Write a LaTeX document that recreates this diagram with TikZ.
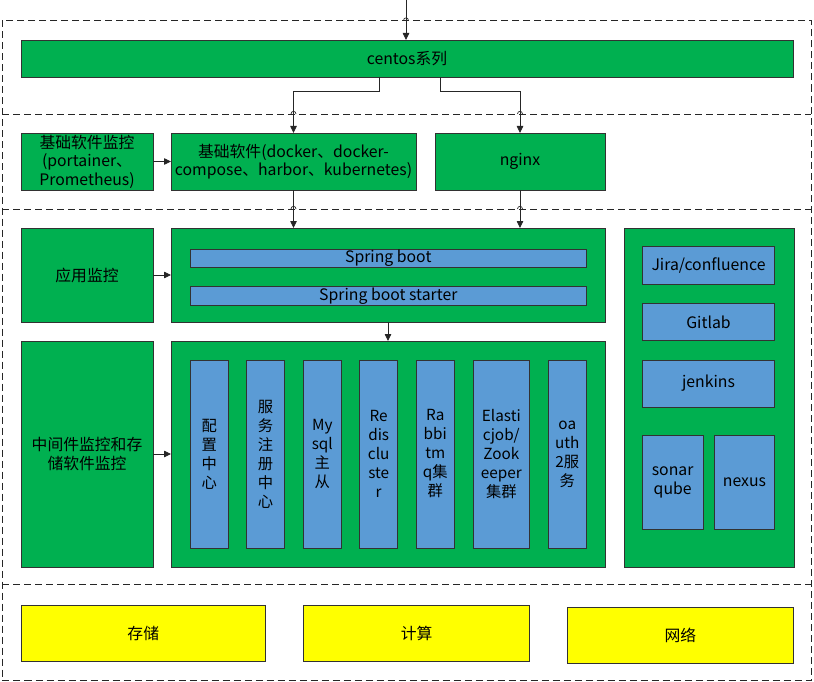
\documentclass[tikz,border=0pt]{standalone}
\usepackage{fontspec}
\setmainfont{Noto Sans CJK SC}
\usetikzlibrary{arrows.meta}
\definecolor{vgreen}{RGB}{0,176,80}
\definecolor{vblue}{RGB}{91,155,213}
\definecolor{vyellow}{RGB}{255,255,0}
\definecolor{edgec}{RGB}{50,50,50}
\begin{document}
\begin{tikzpicture}[x=1pt,y=-1pt,
  box/.style={draw=edgec,line width=0.8pt,inner sep=0pt,outer sep=0pt,anchor=north west,align=center,
    font=\fontsize{15.8}{18.5}\selectfont},
  gbox/.style={box,fill=vgreen},
  bbox/.style={box,fill=vblue},
  vbar/.style={bbox,font=\fontsize{15.3}{19}\selectfont},
  ybox/.style={box,fill=vyellow},
  zone/.style={draw=black!85,dash pattern=on 7pt off 4pt,line width=0.9pt},
  conn/.style={draw=black!85,line width=0.8pt,-{Triangle[length=7pt,width=6.5pt]}},
  hop/.style={draw=black!85,line width=0.7pt}
]
\useasboundingbox (0,0) rectangle (814,682);
% zones
\draw[zone] (2,20.5) rectangle (811,680);
\draw[zone] (2,114) -- (811,114);
\draw[zone] (2,209) -- (811,209);
\draw[zone] (2,584.5) -- (811,584.5);

% top layer
\node[gbox,minimum width=772pt,minimum height=37pt] (centos) at (21,40) {centos系列};

% second layer
\node[gbox,minimum width=132pt,minimum height=57pt] (mon1) at (21,133) {基础软件监控\\(portainer、\\Prometheus)};
\node[gbox,minimum width=245pt,minimum height=57pt] (base) at (171,133) {基础软件(docker、docker-\\compose、harbor、kubernetes)};
\node[gbox,minimum width=170pt,minimum height=57pt] (nginx) at (435,133) {nginx};

% third layer
\node[gbox,minimum width=132pt,minimum height=94pt] (appmon) at (21,228) {应用监控};
\node[gbox,minimum width=434pt,minimum height=94pt] (spring) at (171,228) {};
\node[bbox,minimum width=396pt,minimum height=18.5pt] (sb) at (190.3,249) {Spring boot};
\node[bbox,minimum width=396pt,minimum height=19pt] (sbs) at (190.3,286.5) {Spring boot starter};

\node[gbox,minimum width=132pt,minimum height=226pt] (midmon) at (21,341) {中间件监控和存\\储软件监控};
\node[gbox,minimum width=434pt,minimum height=226pt] (mid) at (171,341) {};
\node[vbar,minimum width=38pt,minimum height=188pt] (b1) at (190.3,360) {配\\置\\中\\心};
\node[vbar,minimum width=37.6pt,minimum height=188pt] (b2) at (246.7,360) {服\\务\\注\\册\\中\\心};
\node[vbar,minimum width=38pt,minimum height=188pt] (b3) at (303.3,360) {My\\sql\\主\\从};
\node[vbar,minimum width=38pt,minimum height=188pt] (b4) at (359.7,360) {Re\\dis\\clu\\ste\\r};
\node[vbar,minimum width=38pt,minimum height=188pt] (b5) at (416.3,360) {Ra\\bbi\\tm\\q集\\群};
\node[vbar,minimum width=56.7pt,minimum height=188pt] (b6) at (473,360) {Elasti\\cjob/\\Zook\\eeper\\集群};
\node[vbar,minimum width=38pt,minimum height=188pt] (b7) at (548.3,360) {oa\\uth\\2服\\务};

\node[gbox,minimum width=170pt,minimum height=339pt] (right) at (624,228) {};
\node[bbox,minimum width=132.4pt,minimum height=37.6pt] (jira) at (642.3,246.7) {Jira/confluence};
\node[bbox,minimum width=132.4pt,minimum height=37pt] (gitlab) at (642.3,303.7) {Gitlab};
\node[bbox,minimum width=132.4pt,minimum height=47pt] (jenkins) at (642.3,360) {jenkins};
\node[bbox,minimum width=60.7pt,minimum height=93.6pt] (sonar) at (642.3,435.7) {sonar\\qube};
\node[bbox,minimum width=60.4pt,minimum height=93.6pt] (nexus) at (714.3,435.7) {nexus};

% bottom layer
\node[ybox,minimum width=244.5pt,minimum height=56.3pt] (s1) at (21,605) {存储};
\node[ybox,minimum width=226pt,minimum height=56pt] (s2) at (303.7,605) {计算};
\node[ybox,minimum width=225.8pt,minimum height=56pt] (s3) at (567.5,607) {网络};

% connectors
\coordinate (topin) at (406,0);
\draw[conn] (topin) -- (topin |- centos.north);
\draw[conn] (379.5,0 |- centos.south) -- (379.5,91) -| (base.north);
\draw[conn] (440,0 |- centos.south) -- (440,91) -| (nginx.north);
\draw[conn] (mon1.east) -- (base.west);
\draw[conn] (base.south) -- (base.south |- spring.north);
\draw[conn] (nginx.south) -- (nginx.south |- spring.north);
\draw[conn] (appmon.east) -- (spring.west);
\draw[conn] (spring.south) -- (spring.south |- mid.north);
\draw[conn] (midmon.east) -- (mid.west);

% line hops of the dashed borders over the connectors
\foreach \hx/\hy in {406/20.5, 293.5/114, 520/114, 293.5/209, 520/209}
  \draw[hop] (\hx-2.5,\hy) .. controls (\hx-2.5,\hy-3.5) and (\hx+2.5,\hy-3.5) .. (\hx+2.5,\hy);
\end{tikzpicture}
\end{document}
